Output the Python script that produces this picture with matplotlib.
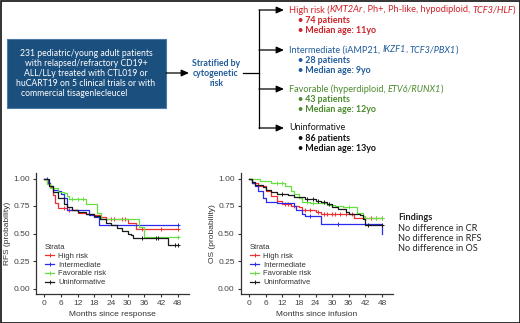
import numpy as np
import matplotlib
matplotlib.use("Agg")
from matplotlib import pyplot as plt
from matplotlib.patches import Rectangle

# ---- data ----
groups = ["High risk", "Intermediate", "Favorable risk", "Uninformative"]
colors = ["#f03030", "#2a2af0", "#66e040", "#1a1a1a"]

rfs_high_t = [0, 1, 2, 3, 4, 5, 8, 12, 15, 18, 20, 22, 30, 33]
rfs_high_s = [1.0, 0.96, 0.92, 0.85, 0.78, 0.73, 0.71, 0.69, 0.68, 0.67, 0.65, 0.63, 0.60, 0.54]
rfs_high_c = [7, 9, 24, 25, 28, 29, 35, 42, 48]

rfs_int_t = [0, 1.2, 2, 3, 5, 6, 7, 8, 16, 18, 19.5]
rfs_int_s = [1.0, 0.96, 0.93, 0.90, 0.89, 0.86, 0.82, 0.71, 0.67, 0.65, 0.58]
rfs_int_c = [1, 48]

rfs_fav_t = [0, 1, 2, 5, 7, 8, 9, 15, 19, 20.5, 34, 36]
rfs_fav_s = [1.0, 0.95, 0.91, 0.88, 0.87, 0.84, 0.81, 0.77, 0.69, 0.63, 0.56, 0.47]
rfs_fav_c = [10, 12, 14, 48]

rfs_unk_t = [0, 1.5, 3, 5, 7, 8, 10, 12, 15, 18, 20, 22, 24, 26, 28, 30, 31, 32, 44.5]
rfs_unk_s = [1.0, 0.93, 0.88, 0.82, 0.77, 0.74, 0.71, 0.70, 0.68, 0.66, 0.63, 0.60, 0.58, 0.55,
             0.52, 0.50, 0.49, 0.46, 0.40]
rfs_unk_c = [35, 40, 41, 47, 48]

os_high_t = [0, 1, 3, 6, 8, 10, 12, 15, 18, 19, 24, 26, 38]
os_high_s = [1.0, 0.96, 0.93, 0.89, 0.84, 0.80, 0.77, 0.75, 0.74, 0.71, 0.70, 0.68, 0.64]
os_high_c = [13, 14, 16, 20, 22, 25, 27, 28, 30, 31, 33, 35, 37, 44, 46, 48]

os_int_t = [0, 1, 2, 3, 5, 6, 10, 16, 17, 19, 20, 26, 48]
os_int_s = [1.0, 0.96, 0.93, 0.89, 0.82, 0.79, 0.78, 0.75, 0.71, 0.68, 0.66, 0.59, 0.50]
os_int_c = [22, 32]

os_fav_t = [0, 4, 8, 13, 15, 16, 18, 19, 22, 28, 31, 34, 39, 41, 42]
os_fav_s = [1.0, 0.98, 0.96, 0.93, 0.89, 0.86, 0.82, 0.79, 0.78, 0.76, 0.75, 0.74, 0.69, 0.66, 0.64]
os_fav_c = [10, 12, 21, 23, 36, 46, 48]

os_unk_t = [0, 1, 2, 5, 6, 8, 10, 14, 16, 20, 24, 26, 28, 30, 32, 35, 36, 40, 41, 42]
os_unk_s = [1.0, 0.97, 0.94, 0.92, 0.90, 0.88, 0.86, 0.85, 0.83, 0.81, 0.80, 0.79, 0.77, 0.74,
            0.72, 0.70, 0.68, 0.67, 0.63, 0.58]
os_unk_c = [12, 21, 23, 25, 27, 29, 43, 48]

x_ticks = [0, 6, 12, 18, 24, 30, 36, 42, 48]
y_ticks = [0.0, 0.25, 0.5, 0.75, 1.0]
y_ticklabels = ["0.00", "0.25", "0.50", "0.75", "1.00"]

box_lines = ["231 pediatric/young adult patients",
             "with relapsed/refractory CD19+",
             "ALL/LLy treated with CTL019 or",
             "huCART19 on 5 clinical trials or with",
             "commercial tisagenlecleucel"]
findings = ["No difference in CR", "No difference in RFS", "No difference in OS"]

TOP_FONT = ["Lato", "DejaVu Sans"]
PLOT_FONT = ["Liberation Sans Narrow", "Liberation Sans", "DejaVu Sans"]


def step_at(t, s, x):
    i = np.searchsorted(t, x, side="right") - 1
    return np.asarray(s)[i]


def km_panel(ax, series, xlabel, ylabel):
    for (t, s, c), col, name in zip(series, colors, groups):
        tt = list(t) + [48]
        ss = list(s) + [s[-1]]
        ax.step(tt, ss, where="post", color=col, lw=0.9, label=name)
        cy = step_at(np.array(t), s, np.array(c))
        ax.plot(c, cy, ls="none", marker="+", ms=3, mew=0.7, color=col)
    ax.set_xlim(-3, 52)
    ax.set_ylim(-0.05, 1.05)
    ax.set_xticks(x_ticks)
    ax.set_yticks(y_ticks)
    ax.set_yticklabels(y_ticklabels)
    for sp in ["top", "right"]:
        ax.spines[sp].set_visible(False)
    for sp in ["left", "bottom"]:
        ax.spines[sp].set_color("#333333")
        ax.spines[sp].set_linewidth(0.9)
    ax.tick_params(length=2.5, width=0.8, color="#333333", labelsize=6.0,
                   labelcolor="#444444", pad=2)
    for lab in ax.get_xticklabels() + ax.get_yticklabels():
        lab.set_family(PLOT_FONT)
    ax.set_xlabel(xlabel, fontsize=6.0, family=PLOT_FONT, color="#333333", labelpad=3)
    ax.set_ylabel(ylabel, fontsize=6.0, family=PLOT_FONT, color="#333333")
    ax.yaxis.set_label_coords(-0.165, 0.5)
    # legend handles with cross markers like survminer
    handles = [plt.Line2D([], [], color=col, lw=0.9, marker="+", ms=3, mew=0.7) for col in colors]
    leg = ax.legend(handles, groups, title="Strata", loc="upper left",
                    bbox_to_anchor=(0.04, 0.44), frameon=False, fontsize=5.5,
                    title_fontsize=5.5, handlelength=1.2, handletextpad=0.5,
                    labelspacing=0.2, alignment="left", borderaxespad=0)
    for txt in leg.get_texts() + [leg.get_title()]:
        txt.set_family(PLOT_FONT)
        txt.set_color("#333333")


fig = plt.figure(figsize=(5.2, 3.23), dpi=100)

# background axes in pixel coordinates for the flow diagram
bg = fig.add_axes([0, 0, 1, 1])
bg.set_xlim(0, 520)
bg.set_ylim(323, 0)
bg.axis("off")
bg.add_patch(Rectangle((0.5, 0.5), 519, 322, fill=False, ec="#111111", lw=1.2))

navy = "#1b4f7e"
bg.add_patch(Rectangle((6.5, 38.5), 159.5, 69.5, fc=navy, ec="#4a7aa8", lw=0.8))
box_x = [86, 86, 86, 86, 74]
for i, line in enumerate(box_lines):
    bg.text(box_x[i], 53 + 10.1 * i, line, color="white", fontsize=6.2, family=TOP_FONT,
            ha="center", va="center")

arrow_kw = dict(arrowstyle="-|>,head_length=0.45,head_width=0.2", color="black", lw=0.9,
                shrinkA=0, shrinkB=0)
bg.annotate("", xy=(189, 73), xytext=(166, 73), arrowprops=arrow_kw)
blue_t = "#1f5b99"
for i, w in enumerate(["Stratified by", "cytogenetic", "risk"]):
    bg.text(216, 63 + 10.2 * i, w, color=blue_t, fontsize=6.3, family=TOP_FONT,
            weight="bold", ha="center", va="center")
bg.plot([243, 259], [73, 73], color="black", lw=0.9)
branch_y = [10, 50, 89, 128]
bg.plot([259, 259], [branch_y[0], branch_y[-1]], color="black", lw=0.9)
for y in branch_y:
    bg.annotate("", xy=(284, y), xytext=(259, y), arrowprops=arrow_kw)

renderer = fig.canvas.get_renderer()


def seg_line(x0, y, parts, color, size, weight="normal"):
    # parts: (text, italic, space_before); returns artists and total width in px
    arts = []
    x = x0
    for txt, ital, gap in parts:
        if gap:
            x += 0.3 * size
        t = bg.text(x, y, txt, color=color, fontsize=size, family=TOP_FONT, weight=weight,
                    style="italic" if ital else "normal", ha="left", va="center")
        x += t.get_window_extent(renderer).width
        arts.append(t)
    return arts, x - x0


def fit_line(x0, y, parts, color, target, weight="normal"):
    arts, w = seg_line(x0, y, parts, color, 6.5, weight)
    for a in arts:
        a.remove()
    seg_line(x0, y, parts, color, 6.5 * target / w, weight)


red_t = "#cf2027"
green_t = "#4a8a2c"
headers = [
    ([("High risk (", False, False), ("KMT2Ar", True, False),
      (", Ph+, Ph-like, hypodiploid,", False, False), ("TCF3/HLF", True, True),
      (")", False, False)], red_t, ["74 patients", "Median age: 11yo"], 224),
    ([("Intermediate (iAMP21,", False, False), ("IKZF1", True, True), (",", False, False),
      ("TCF3/PBX1", True, True), (")", False, False)], blue_t,
     ["28 patients", "Median age: 9yo"], 168),
    ([("Favorable (hyperdiploid,", False, False), ("ETV6/RUNX1", True, True),
      (")", False, False)], green_t, ["43 patients", "Median age: 12yo"], 154),
    ([("Uninformative", False, False)], "#111111", ["86 patients", "Median age: 13yo"], 56),
]
for y, (parts, col, bullets, target) in zip(branch_y, headers):
    fit_line(289, y, parts, col, target)
    for j, b in enumerate(bullets):
        bg.text(298, y + 10.3 * (j + 1), "\u2022 " + b, color=col, fontsize=6.4,
                family=TOP_FONT, weight="bold", ha="left", va="center")

bg.text(398.5, 218, "Findings", fontsize=6.6, weight="bold", family=TOP_FONT,
        color="#222222", va="center")
for i, f in enumerate(findings):
    bg.text(398.5, 228.3 + 10.1 * i, f, fontsize=6.6, family=TOP_FONT, color="#222222",
            va="center")

ax1 = fig.add_axes([36 / 520, 29 / 323, 153 / 520, 121 / 323])
km_panel(ax1, [(rfs_high_t, rfs_high_s, rfs_high_c), (rfs_int_t, rfs_int_s, rfs_int_c),
               (rfs_fav_t, rfs_fav_s, rfs_fav_c), (rfs_unk_t, rfs_unk_s, rfs_unk_c)],
         "Months since response", "RFS (probability)")

ax2 = fig.add_axes([241 / 520, 29 / 323, 152 / 520, 121 / 323])
km_panel(ax2, [(os_high_t, os_high_s, os_high_c), (os_int_t, os_int_s, os_int_c),
               (os_fav_t, os_fav_s, os_fav_c), (os_unk_t, os_unk_s, os_unk_c)],
         "Months since infusion", "OS (probability)")

fig.savefig("out.png", dpi=100)
